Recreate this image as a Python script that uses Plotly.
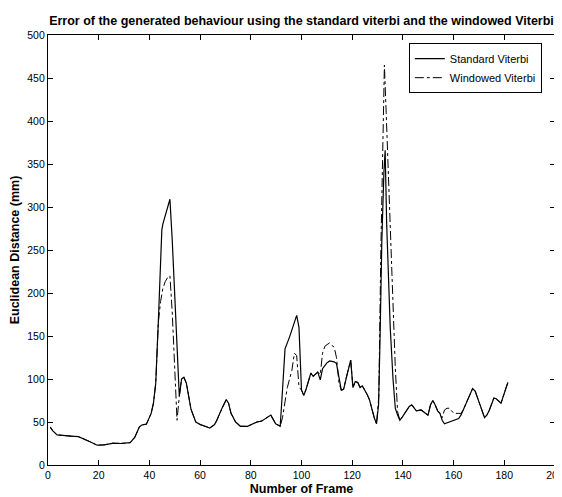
import plotly.graph_objects as go

# Standard Viterbi error (frame, Euclidean distance in mm)
frames_standard = [0.9, 1.8, 3.6, 6.4, 9.2, 12.0, 13.8, 16.6, 19.4, 22.2,
                   25.9, 28.6, 32.4, 34.2, 36.0, 37.0, 38.8, 40.7, 41.6, 42.5,
                   43.5, 44.4, 44.9, 45.3, 46.2, 47.2, 48.1, 49.0, 49.9, 50.9,
                   51.8, 52.7, 53.6, 54.6, 56.4, 58.3, 60.1, 62.0, 63.8, 65.7,
                   66.6, 68.5, 70.3, 71.2, 72.2, 74.0, 75.9, 78.7, 80.5, 82.4,
                   84.2, 86.1, 87.9, 89.8, 91.6, 92.5, 93.5, 95.3, 97.2, 98.1,
                   99.0, 100.0, 100.9, 101.8, 103.7, 104.6, 106.4, 107.4, 108.3, 110.1,
                   111.1, 112.9, 113.8, 114.8, 115.7, 116.6, 117.5, 119.4, 120.3, 121.2,
                   122.2, 123.1, 124.0, 124.9, 125.9, 126.8, 127.7, 128.7, 129.6, 130.4,
                   131.0, 131.7, 132.5, 133.0, 133.6, 134.2, 135.0, 136.1, 137.0, 137.9,
                   138.8, 139.8, 141.6, 142.5, 143.5, 144.4, 145.3, 147.2, 148.1, 149.0,
                   149.9, 150.9, 151.8, 152.7, 153.7, 154.6, 155.5, 156.4, 158.3, 160.1,
                   162.0, 162.9, 163.8, 165.7, 167.5, 168.5, 169.4, 170.3, 172.2, 173.1,
                   174.0, 175.9, 176.8, 178.7, 179.6, 181.4]
error_standard = [44, 40, 35, 34, 33.5, 33, 31, 27, 23, 23.5,
                  25.5, 25, 26, 32, 44, 46.5, 47.5, 60, 72, 95,
                  165, 230, 273, 280, 290, 300, 309, 262, 205, 150,
                  80, 100, 102, 95, 65, 50, 47, 45, 43, 47,
                  52, 65, 76, 72, 60, 50, 45, 45, 47, 50,
                  51, 55, 58, 48, 45, 87, 135, 149, 168, 174,
                  160, 87, 81, 88, 107, 103, 108, 99, 112, 119,
                  121, 120, 118, 100, 87, 88, 100, 122, 90, 97,
                  96, 90, 92, 88, 82, 76, 65, 55, 48, 70,
                  150, 262, 340, 366, 280, 220, 160, 100, 66, 58,
                  52, 56, 64, 68, 70, 66, 63, 64, 62, 60,
                  58, 70, 75, 70, 63, 60, 52, 48, 50, 52,
                  54, 58, 64, 78, 89, 86, 79, 70, 55, 58,
                  63, 78, 77, 72, 80, 96]

# Windowed Viterbi error
frames_windowed = [0.9, 1.8, 3.6, 6.4, 9.2, 12.0, 13.8, 16.6, 19.4, 22.2,
                   25.9, 28.6, 32.4, 34.2, 36.0, 37.0, 38.8, 40.7, 41.6, 42.5,
                   43.5, 44.4, 45.3, 46.2, 47.2, 48.1, 49.0, 49.9, 50.9, 51.8,
                   52.7, 53.6, 54.6, 56.4, 58.3, 60.1, 62.0, 63.8, 65.7, 66.6,
                   68.5, 70.3, 71.2, 72.2, 74.0, 75.9, 78.7, 80.5, 82.4, 84.2,
                   86.1, 87.9, 89.8, 91.6, 92.5, 93.5, 94.4, 95.3, 96.2, 97.2,
                   98.1, 99.0, 100.0, 100.9, 101.8, 103.7, 104.6, 106.4, 107.4, 108.3,
                   109.2, 110.1, 111.1, 112.0, 112.9, 113.8, 114.8, 115.7, 116.6, 117.5,
                   119.4, 120.3, 121.2, 122.2, 123.1, 124.0, 124.9, 125.9, 126.8, 127.7,
                   128.7, 129.6, 130.5, 131.3, 132.0, 132.7, 133.4, 134.2, 135.1, 136.1,
                   137.0, 137.9, 138.8, 139.8, 141.6, 142.5, 143.5, 144.4, 145.3, 147.2,
                   148.1, 149.0, 149.9, 150.9, 151.8, 152.7, 153.7, 154.6, 155.5, 156.4,
                   157.4, 158.3, 159.2, 160.1, 162.0, 162.9, 163.8, 165.7, 167.5, 168.5,
                   169.4, 170.3, 172.2, 173.1, 174.0, 175.9, 176.8, 178.7, 179.6, 181.4]
error_windowed = [44, 40, 35, 34, 33.5, 33, 31, 27, 23, 23.5,
                  25.5, 25, 26, 32, 44, 46.5, 47.5, 60, 72, 95,
                  165, 190, 205, 213, 218, 220, 178, 110, 52, 80,
                  100, 102, 95, 65, 50, 47, 45, 43, 47, 52,
                  65, 76, 72, 60, 50, 45, 45, 47, 50, 51,
                  55, 58, 48, 45, 55, 75, 90, 100, 110, 130,
                  127, 91, 87, 81, 88, 107, 103, 108, 105, 130,
                  138, 140, 142, 139, 137, 125, 95, 87, 88, 100,
                  122, 90, 97, 96, 90, 92, 88, 82, 76, 65,
                  55, 48, 80, 250, 380, 465, 410, 343, 266, 190,
                  113, 62, 52, 56, 64, 68, 70, 66, 63, 64,
                  62, 60, 58, 70, 75, 70, 63, 60, 55, 64,
                  66, 66, 63, 60, 60, 60, 64, 78, 89, 86,
                  79, 70, 55, 58, 63, 78, 77, 72, 80, 96]

assert len(frames_standard) == len(error_standard)
assert len(frames_windowed) == len(error_windowed)

x_ticks = [0, 20, 40, 60, 80, 100, 120, 140, 160, 180, 200]
y_ticks = [0, 50, 100, 150, 200, 250, 300, 350, 400, 450, 500]

FONT = "Liberation Sans, Arial, Helvetica, sans-serif"

fig = go.Figure()
fig.add_trace(go.Scatter(x=frames_standard, y=error_standard, mode="lines",
                         name="Standard Viterbi",
                         line=dict(color="black", width=1.2, dash="solid")))
fig.add_trace(go.Scatter(x=frames_windowed, y=error_windowed, mode="lines",
                         name="Windowed Viterbi",
                         line=dict(color="black", width=1.0, dash="dashdot")))

axis_common = dict(showline=True, linecolor="black", linewidth=1.2,
                   mirror="ticks", ticks="inside", ticklen=5, tickwidth=1,
                   tickcolor="black", showgrid=False, zeroline=False,
                   automargin=False,
                   tickfont=dict(family=FONT, size=10.5, color="black"))

# the page body adds an 8px offset; margins account for it
fig.update_layout(
    width=562, height=497,
    margin=dict(l=39.5, r=15, t=26.7, b=40.3),
    paper_bgcolor="white", plot_bgcolor="white",
    font=dict(family=FONT, size=10.5, color="black"),
    title=dict(text="<b>Error of the generated behaviour using the standard viterbi and the windowed Viterbi</b>",
               x=0.5, xref="paper", xanchor="center",
               y=1 - 13 / 497, yref="container", yanchor="middle",
               font=dict(family=FONT, size=12.5, color="black")),
    xaxis=dict(range=[0, 200], tickvals=x_ticks,
               title=dict(text="<b>Number of Frame</b>", standoff=4,
                          font=dict(family=FONT, size=12.5, color="black")),
               **axis_common),
    yaxis=dict(range=[0, 500], tickvals=y_ticks,
               title=dict(text="<b>Euclidean Distance (mm)</b>", standoff=6,
                          font=dict(family=FONT, size=12.5, color="black")),
               **axis_common),
    legend=dict(x=0.974, y=0.981, xanchor="right", yanchor="top",
                bgcolor="white", bordercolor="black", borderwidth=1,
                font=dict(family=FONT, size=11, color="black"),
                tracegroupgap=0),
    showlegend=True,
)

fig.write_html("out.html")
